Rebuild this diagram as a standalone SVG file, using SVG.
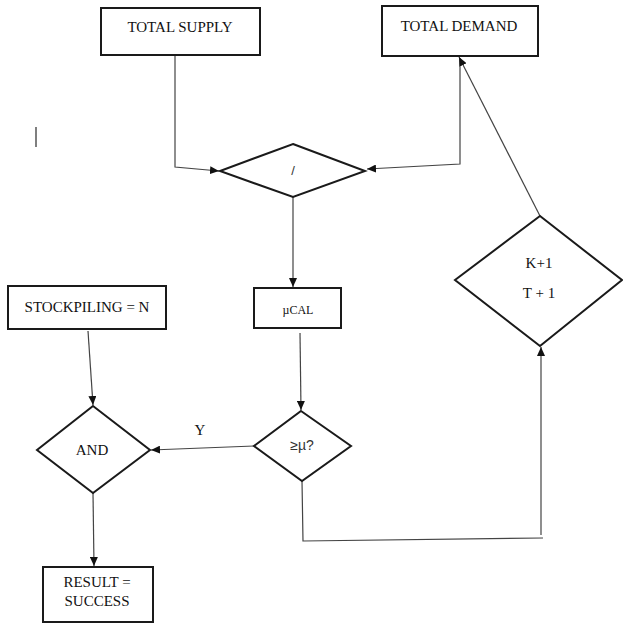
<svg xmlns="http://www.w3.org/2000/svg" width="623" height="624" viewBox="0 0 623 624">
<style>
  .box { fill: #fff; stroke: #1a1a1a; stroke-width: 2; }
  .dia { fill: #fff; stroke: #1a1a1a; stroke-width: 2; stroke-linejoin: miter; }
  .t { font-family: 'Liberation Serif', 'Times New Roman', Times, serif; font-size: 15px; fill: #111; text-anchor: middle; }
  .s { font-family: 'Liberation Sans', Arial, sans-serif; fill: #333; text-anchor: middle; }
  .conn { fill: none; stroke: #444; stroke-width: 1.2; }
</style>
<defs>
  <marker id="arr" markerUnits="userSpaceOnUse" markerWidth="10" markerHeight="8" refX="9" refY="4" orient="auto">
    <path d="M0,0 L9,4 L0,8 z" fill="#111"/>
  </marker>
</defs>
<rect width="623" height="624" fill="#fff"/>

<g id="connectors">
  <path class="conn" d="M175,55 L175,167 L219,171" marker-end="url(#arr)"/>
  <path class="conn" d="M460,58 L460,164 L367,169" marker-end="url(#arr)"/>
  <path class="conn" d="M540,216 L459,57" marker-end="url(#arr)"/>
  <path class="conn" d="M293,197 L293,287" marker-end="url(#arr)"/>
  <path class="conn" d="M300,333 L301,410" marker-end="url(#arr)"/>
  <path class="conn" d="M88,331 L93,405" marker-end="url(#arr)"/>
  <path class="conn" d="M254,446 L151,450" marker-end="url(#arr)"/>
  <path class="conn" d="M93,493 L94,566" marker-end="url(#arr)"/>
  <path class="conn" d="M302,481 L303,541 L543,538"/>
  <path class="conn" d="M541,535 L541,347" marker-end="url(#arr)"/>
</g>

<g id="total-supply">
  <rect class="box" x="101" y="8" width="159" height="47"/>
  <text class="t" x="180" y="32">TOTAL SUPPLY</text>
</g>

<g id="total-demand">
  <rect class="box" x="382" y="6" width="156" height="50"/>
  <text class="t" x="459" y="31">TOTAL DEMAND</text>
</g>

<g id="divide">
  <polygon class="dia" points="293,144 365,171 293,197 220,171"/>
  <text class="s" x="293" y="175" font-size="13">/</text>
</g>

<g id="mu-cal">
  <rect class="box" x="254" y="288" width="87" height="40"/>
  <text class="t" x="298" y="314" style="font-size:12px">µCAL</text>
</g>

<g id="stockpiling">
  <rect class="box" x="8" y="286" width="158" height="43"/>
  <text class="t" x="87" y="312">STOCKPILING = N</text>
</g>

<g id="and">
  <polygon class="dia" points="93,406 150,450 93,493 37,450"/>
  <text class="t" x="92" y="455">AND</text>
</g>

<g id="ge-mu">
  <polygon class="dia" points="301,411 351,446 302,481 254,446"/>
  <text class="s" x="302" y="450" font-size="14">≥µ?</text>
</g>

<g id="increment">
  <polygon class="dia" points="540,216 622,280 540,346 455,280"/>
  <text class="t" x="539" y="268">K+1</text>
  <text class="t" x="539" y="298">T + 1</text>
</g>

<g id="result">
  <rect class="box" x="43" y="567" width="110" height="55"/>
  <text class="t" x="97" y="587">RESULT =</text>
  <text class="t" x="97" y="606">SUCCESS</text>
</g>

<g id="labels">
  <text class="t" x="200" y="435">Y</text>
  <line x1="36" y1="127" x2="36" y2="147" stroke="#555" stroke-width="1.5"/>
</g>
</svg>
